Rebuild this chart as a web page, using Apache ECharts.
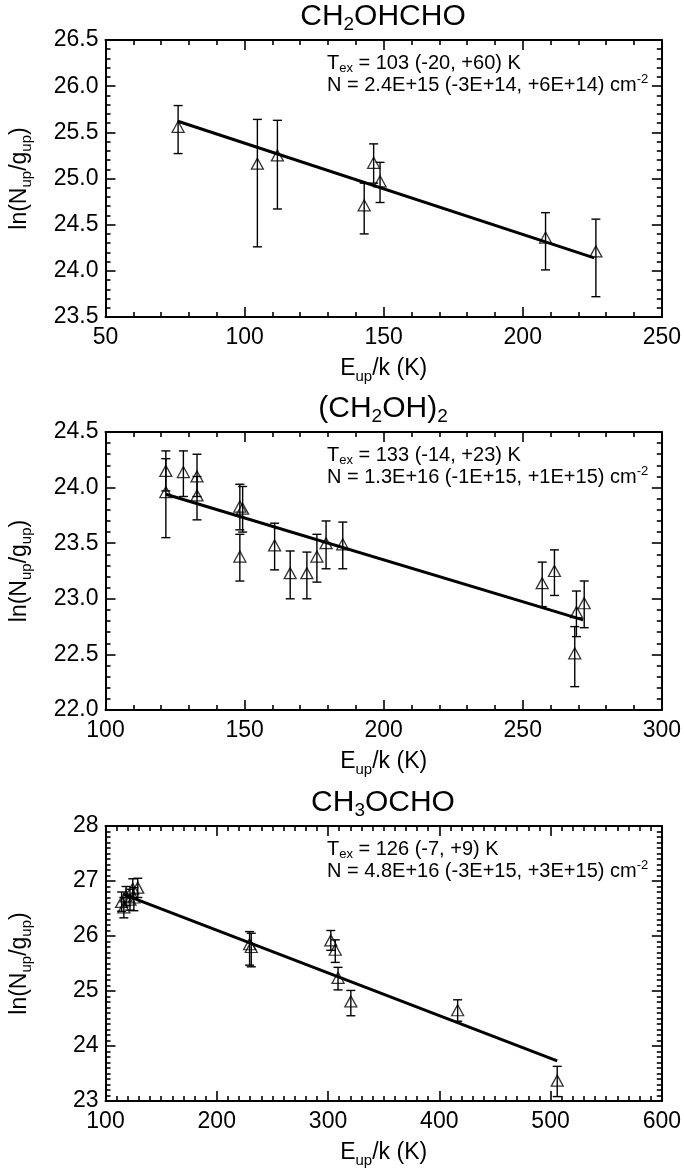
<!DOCTYPE html>
<html>
<head>
<meta charset="utf-8">
<script src="https://cdn.jsdelivr.net/npm/echarts@6/dist/echarts.min.js"></script>
<style>
html,body{margin:0;padding:0;background:#fff;}
#chart{width:684px;height:1171px;}
</style>
</head>
<body>
<div id="chart"></div>
<script>
// ---------- DATA ----------
// Panel 1: CH2OHCHO
const p1X  = [76.1, 104.6, 111.8, 143.0, 146.4, 148.7, 208.2, 226.3];
const p1Y  = [25.56, 25.16, 25.25, 24.71, 25.17, 24.97, 24.36, 24.21];
const p1Lo = [25.27, 24.26, 24.67, 24.40, 24.95, 24.74, 24.01, 23.72];
const p1Hi = [25.79, 25.64, 25.63, 24.95, 25.375, 25.175, 24.63, 24.56];
const p1FitX = [76.0, 225.7];
const p1FitY = [25.62, 24.14];

// Panel 2: (CH2OH)2
const p2X  = [121.7, 121.7, 128.0, 132.9, 132.9, 148.3, 149.3, 148.3, 160.8, 166.4, 172.4, 176.0, 179.3, 185.3, 257.0, 261.4, 268.7, 269.3, 272.1];
const p2Y  = [24.15, 23.96, 24.14, 24.10, 23.93, 23.83, 23.81, 23.38, 23.48, 23.23, 23.23, 23.38, 23.50, 23.49, 23.14, 23.25, 22.51, 22.88, 22.96];
const p2Lo = [23.97, 23.55, 23.92, 23.92, 23.71, 23.62, 23.60, 23.16, 23.26, 23.00, 23.00, 23.15, 23.27, 23.27, 22.93, 23.03, 22.21, 22.66, 22.74];
const p2Hi = [24.33, 24.26, 24.33, 24.30, 24.10, 24.03, 24.01, 23.58, 23.68, 23.43, 23.42, 23.58, 23.70, 23.69, 23.33, 23.44, 22.75, 23.07, 23.16];
const p2FitX = [121.7, 271.7];
const p2FitY = [23.94, 22.81];

// Panel 3: CH3OCHO
const p3X  = [114.5, 116.5, 118.5, 122.0, 124.5, 125.5, 129.0, 229.5, 231.0, 302.5, 306.5, 309.0, 320.5, 416.5, 506.0];
const p3Y  = [26.62, 26.52, 26.72, 26.66, 26.86, 26.70, 26.88, 25.85, 25.80, 25.92, 25.75, 25.24, 24.81, 24.65, 23.37];
const p3Lo = [26.45, 26.33, 26.55, 26.47, 26.68, 26.46, 26.70, 25.47, 25.44, 25.74, 25.52, 25.02, 24.55, 24.45, 23.08];
const p3Hi = [26.80, 26.70, 26.90, 26.85, 27.04, 26.88, 27.05, 26.08, 26.05, 26.10, 25.93, 25.43, 25.01, 24.84, 23.63];
const p3FitX = [115.5, 506.0];
const p3FitY = [26.76, 23.73];

// Titles and annotations (rich text)
const titles = ['{m|CH}{s|2}{m|OHCHO}', '{m|(CH}{s|2}{m|OH)}{s|2}', '{m|CH}{s|3}{m|OCHO}'];
const texLines = ['{m|T}{s|ex}{m| = 103 (-20, +60) K}', '{m|T}{s|ex}{m| = 133 (-14, +23) K}', '{m|T}{s|ex}{m| = 126 (-7, +9) K}'];
const nLines = ['{m|N = 2.4E+15 (-3E+14, +6E+14) cm}{p|-2}', '{m|N = 1.3E+16 (-1E+15, +1E+15) cm}{p|-2}', '{m|N = 4.8E+16 (-3E+15, +3E+15) cm}{p|-2}'];
const xName = '{m|E}{s|up}{m|/k (K)}';
const yName = '{m|ln(N}{s|up}{m|/g}{s|up}{m|)}';

// Axis ranges
const xRanges = [[50, 250, 50, 5], [100, 300, 50, 5], [100, 600, 100, 10]];
const yRanges = [[23.5, 26.5, 0.5, 5], [22.0, 24.5, 0.5, 5], [23, 28, 1, 10]];
const yDecimals = [1, 1, 0];

// ---------- LAYOUT ----------
const FONT = '"Liberation Sans", Helvetica, Arial, sans-serif';
const grids = [
  {left: 103, top: 40, width: 560, height: 277},
  {left: 103, top: 432, width: 560, height: 278},
  {left: 103, top: 826, width: 560, height: 275}
];

const panels = [
  {x: p1X, y: p1Y, lo: p1Lo, hi: p1Hi, fx: p1FitX, fy: p1FitY},
  {x: p2X, y: p2Y, lo: p2Lo, hi: p2Hi, fx: p2FitX, fy: p2FitY},
  {x: p3X, y: p3Y, lo: p3Lo, hi: p3Hi, fx: p3FitX, fy: p3FitY}
];

const black = '#000';
function axisCommon(min, max, interval, minorSplit) {
  return {
    type: 'value', min, max, interval,
    axisLine: {show: true, onZero: false, lineStyle: {color: black, width: 2}},
    axisTick: {show: true, inside: true, length: 10, lineStyle: {color: black, width: 1.6}},
    minorTick: {show: true, splitNumber: minorSplit, length: 5, lineStyle: {color: black, width: 1.6}},
    splitLine: {show: false},
    minorSplitLine: {show: false}
  };
}

const subRich = (size) => ({
  m: {fontSize: size, fontFamily: FONT, color: black, lineHeight: 30},
  s: {fontSize: Math.round(size * 0.65), fontFamily: FONT, color: black, lineHeight: 14, verticalAlign: 'bottom'}
});

const xAxes = [], yAxes = [], series = [], graphics = [];
grids.forEach((g, i) => {
  const xr = xRanges[i], yr = yRanges[i];
  xAxes.push(Object.assign(axisCommon(xr[0], xr[1], xr[2], xr[3]), {
    gridIndex: i, position: 'bottom',
    axisLabel: {show: true, color: black, fontSize: 23, fontFamily: FONT, margin: 9},
    name: xName, nameLocation: 'middle', nameGap: 37,
    nameTextStyle: {rich: subRich(23)}
  }));
  xAxes.push(Object.assign(axisCommon(xr[0], xr[1], xr[2], xr[3]), {
    gridIndex: i, position: 'top', axisLabel: {show: false}
  }));
  const dec = yDecimals[i];
  yAxes.push(Object.assign(axisCommon(yr[0], yr[1], yr[2], yr[3]), {
    gridIndex: i, position: 'left',
    axisLabel: {show: true, color: black, fontSize: 23, fontFamily: FONT, margin: 7,
      formatter: v => v.toFixed(dec)},
    name: yName, nameLocation: 'middle', nameGap: 71,
    nameTextStyle: {rich: subRich(23)}
  }));
  yAxes.push(Object.assign(axisCommon(yr[0], yr[1], yr[2], yr[3]), {
    gridIndex: i, position: 'right', axisLabel: {show: false}
  }));

  const p = panels[i];
  const xi = i * 2, yi = i * 2;
  series.push({
    type: 'line', xAxisIndex: xi, yAxisIndex: yi,
    data: p.fx.map((v, k) => [v, p.fy[k]]),
    symbol: 'none', lineStyle: {color: black, width: 3}, z: 3, silent: true
  });
  series.push({
    type: 'custom', xAxisIndex: xi, yAxisIndex: yi,
    data: p.x.map((v, k) => [v, p.lo[k], p.hi[k]]),
    encode: {x: 0, y: [1, 2]},
    renderItem: function (params, api) {
      const x = api.value(0);
      const a = api.coord([x, api.value(2)]);
      const b = api.coord([x, api.value(1)]);
      const w = 4.5;
      const st = {stroke: black, lineWidth: 1.4, fill: null};
      return {type: 'group', children: [
        {type: 'line', shape: {x1: a[0], y1: a[1], x2: b[0], y2: b[1]}, style: st},
        {type: 'line', shape: {x1: a[0] - w, y1: a[1], x2: a[0] + w, y2: a[1]}, style: st},
        {type: 'line', shape: {x1: b[0] - w, y1: b[1], x2: b[0] + w, y2: b[1]}, style: st}
      ]};
    },
    z: 2, silent: true
  });
  series.push({
    type: 'scatter', xAxisIndex: xi, yAxisIndex: yi,
    data: p.x.map((v, k) => [v, p.y[k]]),
    symbol: 'triangle', symbolSize: [12, 11],
    itemStyle: {color: 'rgba(0,0,0,0)', borderColor: black, borderWidth: 1.3},
    z: 4, silent: true
  });

  // Title
  graphics.push({
    type: 'text', x: g.left + g.width / 2, y: g.top - 23, z: 10,
    style: {
      text: titles[i], align: 'center', verticalAlign: 'middle',
      rich: {
        m: {fontSize: 30, fontFamily: FONT, fill: black, lineHeight: 34},
        s: {fontSize: 19, fontFamily: FONT, fill: black, lineHeight: 16, verticalAlign: 'bottom'}
      }
    }
  });
  // Annotation
  graphics.push({
    type: 'text', x: g.left + 224, y: g.top + 23, z: 10,
    style: {
      text: texLines[i], align: 'left', verticalAlign: 'middle',
      rich: {
        m: {fontSize: 20, fontFamily: FONT, fill: black, lineHeight: 24},
        s: {fontSize: 13, fontFamily: FONT, fill: black, lineHeight: 10, verticalAlign: 'bottom'}
      }
    }
  });
  graphics.push({
    type: 'text', x: g.left + 224, y: g.top + 45, z: 10,
    style: {
      text: nLines[i], align: 'left', verticalAlign: 'middle',
      rich: {
        m: {fontSize: 20, fontFamily: FONT, fill: black, lineHeight: 24},
        p: {fontSize: 13, fontFamily: FONT, fill: black, lineHeight: 10, verticalAlign: 'top'}
      }
    }
  });
});

const chart = echarts.init(document.getElementById('chart'), null, {renderer: 'canvas'});
chart.setOption({
  animation: false,
  backgroundColor: '#fff',
  grid: grids.map(g => Object.assign({containLabel: false}, g)),
  xAxis: xAxes,
  yAxis: yAxes,
  series: series,
  graphic: graphics
});
</script>
</body>
</html>
